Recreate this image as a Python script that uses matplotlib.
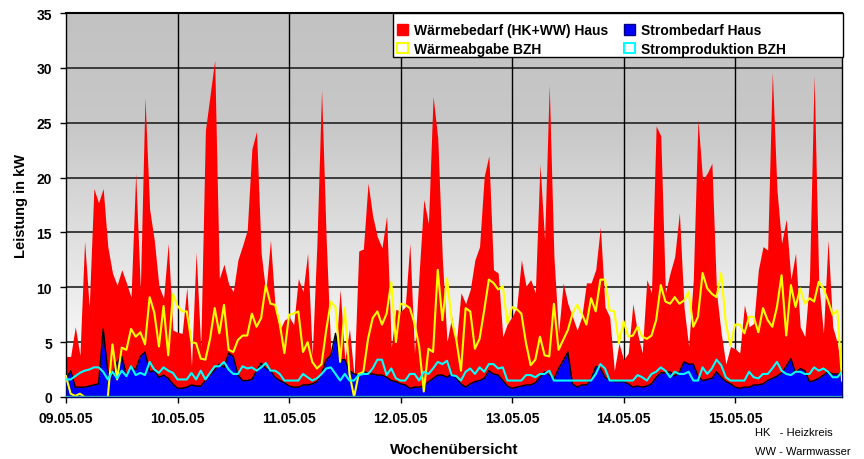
import numpy as np
import matplotlib
matplotlib.use("Agg")
import matplotlib.pyplot as plt
from matplotlib.patches import Patch, Rectangle
from matplotlib.colors import LinearSegmentedColormap

plt.rcParams['font.family'] = ['Liberation Sans', 'DejaVu Sans']

# hourly values (kW), 7 days x 24 h, starting 09.05.05 00:00
waermebedarf = [
    3.7, 3.7, 6.4, 3.8, 14.2, 8.2, 19.0, 17.7, 19.0, 13.7, 11.3, 10.2, 11.6, 10.4, 9.1, 20.4, 9.8, 27.3, 17.1, 14.3, 10.1, 9.0, 14.0, 6.1,
    5.9, 5.8, 10.0, 2.8, 13.2, 4.5, 24.3, 27.5, 30.7, 10.8, 12.1, 10.3, 9.6, 12.5, 13.8, 15.2, 22.6, 24.2, 13.1, 9.5, 14.3, 8.2, 6.1, 7.0,
    7.3, 6.6, 10.8, 9.6, 13.1, 3.8, 14.0, 28.0, 14.3, 4.0, 3.7, 9.8, 3.4, 6.2, 1.9, 13.3, 13.5, 19.5, 16.5, 14.6, 13.6, 16.5, 4.5, 8.0,
    7.8, 8.2, 14.0, 4.0, 11.3, 18.0, 15.8, 27.4, 23.6, 12.5, 5.0, 7.3, 4.9, 9.5, 8.5, 9.8, 12.5, 13.7, 20.1, 22.0, 11.6, 11.3, 5.5, 6.7,
    7.3, 8.2, 12.5, 10.1, 10.7, 9.5, 21.2, 14.3, 28.4, 12.8, 5.8, 10.4, 8.5, 7.3, 6.1, 7.3, 10.4, 10.4, 11.6, 15.5, 8.2, 7.3, 2.4, 4.9,
    3.4, 4.0, 8.5, 5.8, 4.0, 10.7, 9.5, 24.7, 23.8, 9.5, 11.3, 12.8, 16.8, 8.2, 4.6, 10.7, 25.3, 19.8, 20.4, 21.3, 9.5, 5.8, 3.0, 4.6,
    4.4, 4.0, 8.4, 6.4, 6.7, 11.6, 13.7, 13.4, 29.6, 18.9, 14.0, 16.2, 10.7, 13.1, 6.4, 5.5, 10.7, 29.3, 10.4, 5.8, 14.3, 6.4, 4.9, 2.2,
]
strombedarf = [
    1.6, 2.4, 0.9, 0.9, 0.9, 1.0, 1.1, 1.2, 6.2, 2.3, 2.0, 3.2, 3.7, 2.0, 2.7, 2.5, 3.7, 4.1, 2.3, 2.4, 1.8, 2.0, 1.7, 1.2,
    0.8, 0.8, 0.9, 1.1, 1.0, 1.0, 1.5, 2.0, 2.5, 3.0, 2.7, 4.0, 3.7, 2.0, 1.5, 1.5, 1.6, 2.4, 3.1, 2.6, 2.4, 1.8, 1.5, 1.3,
    1.0, 0.9, 0.9, 1.1, 1.1, 1.2, 1.4, 2.1, 3.4, 3.8, 5.8, 3.4, 3.4, 2.4, 2.1, 2.0, 2.4, 2.1, 2.1, 2.0, 2.0, 1.8, 1.5, 1.4,
    1.2, 1.1, 0.8, 0.9, 0.9, 1.0, 1.4, 1.7, 2.0, 2.0, 1.8, 2.1, 1.7, 1.2, 0.9, 1.2, 1.4, 1.5, 1.7, 2.4, 2.1, 2.0, 1.5, 1.0,
    0.8, 0.9, 1.0, 1.1, 1.1, 1.3, 1.8, 2.3, 2.0, 1.6, 2.6, 3.3, 4.1, 1.2, 0.9, 1.1, 1.1, 1.6, 2.8, 2.6, 1.8, 1.5, 1.4, 1.4,
    1.4, 1.2, 0.9, 1.0, 0.9, 1.0, 1.2, 1.8, 2.2, 2.2, 2.3, 1.9, 2.3, 3.2, 3.0, 3.0, 1.9, 1.5, 1.6, 1.7, 2.3, 1.8, 1.4, 1.2,
    0.9, 0.8, 0.9, 0.9, 1.1, 1.1, 1.2, 1.5, 1.7, 1.9, 2.2, 2.8, 3.5, 2.2, 2.6, 2.4, 1.4, 1.5, 1.7, 2.0, 2.3, 2.1, 2.1, 2.1,
]
waermeabgabe = [
    1.9, 0.3, 0.1, 0.3, 0.0, 0.0, 0.0, 0.0, 0.0, 0.0, 4.8, 1.6, 4.5, 4.3, 6.2, 5.5, 5.9, 4.8, 9.1, 7.7, 4.6, 8.3, 3.8, 9.4,
    8.3, 7.8, 7.8, 5.0, 4.9, 3.5, 3.4, 5.3, 8.1, 5.8, 8.4, 4.3, 4.1, 5.2, 5.6, 5.6, 7.6, 6.4, 7.2, 10.2, 8.5, 8.4, 6.7, 4.0,
    7.5, 7.6, 7.8, 4.1, 5.0, 3.2, 2.6, 3.0, 6.1, 8.7, 8.2, 3.2, 8.1, 2.1, 0.0, 2.1, 2.3, 5.3, 7.2, 7.8, 6.6, 7.6, 10.5, 5.0,
    8.5, 8.4, 8.1, 6.7, 4.6, 0.5, 4.4, 4.1, 11.6, 7.0, 10.8, 7.0, 5.2, 2.4, 8.1, 7.8, 4.4, 5.3, 7.9, 10.7, 10.4, 9.8, 10.1, 6.7,
    8.2, 8.0, 7.6, 4.9, 2.9, 3.4, 5.5, 3.8, 3.7, 8.5, 4.3, 5.2, 6.1, 7.6, 8.4, 7.6, 6.6, 9.0, 7.8, 10.7, 10.7, 7.9, 7.8, 4.9,
    6.9, 5.5, 5.6, 6.4, 5.5, 5.3, 5.6, 7.0, 10.2, 8.7, 8.5, 9.1, 8.5, 8.8, 9.6, 6.4, 7.3, 11.3, 9.9, 9.4, 9.1, 11.3, 6.7, 4.7,
    6.6, 6.6, 5.8, 7.3, 7.3, 5.9, 8.1, 7.0, 6.4, 8.2, 11.1, 5.6, 10.2, 8.2, 9.9, 8.5, 9.0, 8.7, 10.5, 9.9, 8.8, 7.5, 7.9, 1.5,
]
stromproduktion = [
    1.6, 1.6, 1.9, 2.2, 2.4, 2.5, 2.7, 2.7, 2.3, 1.6, 2.3, 1.7, 2.4, 1.9, 2.8, 2.0, 2.2, 2.0, 3.2, 2.5, 2.2, 2.7, 2.4, 2.2,
    1.6, 1.6, 1.6, 2.2, 1.6, 2.4, 1.6, 2.2, 2.8, 2.8, 3.2, 2.5, 2.1, 2.1, 2.8, 2.6, 2.7, 2.4, 2.7, 3.1, 2.4, 2.4, 2.1, 1.5,
    1.5, 1.5, 1.5, 2.1, 1.8, 1.5, 1.7, 2.1, 2.6, 2.7, 2.1, 1.5, 2.1, 1.5, 1.5, 2.0, 2.1, 2.1, 2.6, 3.4, 3.4, 2.0, 2.6, 1.7,
    1.5, 1.5, 2.1, 2.1, 1.5, 2.3, 2.1, 2.6, 3.2, 3.0, 3.3, 2.0, 1.9, 1.5, 2.3, 2.6, 2.1, 2.7, 2.3, 3.0, 3.0, 2.6, 2.7, 1.5,
    1.5, 1.5, 1.5, 2.0, 2.0, 1.8, 2.1, 2.1, 2.4, 1.5, 1.5, 1.5, 1.5, 1.5, 1.5, 1.5, 1.5, 1.5, 2.1, 3.0, 2.6, 1.5, 1.5, 1.5,
    1.5, 1.5, 1.5, 2.0, 1.8, 1.5, 2.1, 2.3, 2.7, 2.4, 1.8, 2.3, 2.1, 2.1, 2.3, 1.5, 1.5, 2.7, 2.1, 2.6, 3.4, 2.9, 1.8, 1.5,
    1.5, 1.5, 1.5, 2.3, 1.8, 1.7, 2.1, 2.1, 2.6, 3.2, 2.4, 2.1, 2.0, 2.3, 2.3, 2.1, 2.1, 2.7, 2.4, 2.6, 2.3, 1.8, 1.8, 2.3,
]
day_labels = ["09.05.05", "10.05.05", "11.05.05", "12.05.05", "13.05.05", "14.05.05", "15.05.05"]

t = np.arange(len(waermebedarf)) / 24.0

fig = plt.figure(figsize=(8.64, 4.6), dpi=100)
ax = fig.add_axes([66 / 864, 1 - 398 / 460, (842 - 66) / 864, (398 - 14) / 460])
ax.set_xlim(0, t[-1])
ax.set_ylim(0, 35)

# grey gradient background
cmap = LinearSegmentedColormap.from_list(
    "bg", [(0, "#ffffff"), (0.12, "#f8f8f8"), (0.7, "#c8c8c8"), (1, "#c2c2c2")])
grad = np.linspace(0, 1, 256).reshape(-1, 1)
ax.imshow(grad, cmap=cmap, origin="lower", aspect="auto",
          extent=(0, t[-1], 0, 35), zorder=0)

for y in range(5, 36, 5):
    ax.axhline(y, color="#303030", lw=1.3, zorder=1)
for d in range(1, 7):
    ax.axvline(d, color="black", lw=1.0, zorder=1)

ax.fill_between(t, waermebedarf, color="#ff0000", lw=0, zorder=2)
ax.fill_between(t, strombedarf, color="#0000ff", lw=0, zorder=3)
ax.plot(t, strombedarf, color="black", lw=1.0, zorder=4)
ax.plot(t, waermeabgabe, color="#ffff00", lw=1.5, zorder=5)
ax.plot(t, stromproduktion, color="#00ffff", lw=1.5, zorder=6)
ax.axhline(0.05, color="#30a0a0", lw=1.0, zorder=6)

ax.set_xticks(range(7))
ax.set_xticklabels(day_labels, fontsize=10, fontweight="bold")
ax.set_yticks(range(0, 36, 5))
ax.set_yticklabels([str(v) for v in range(0, 36, 5)], fontsize=10, fontweight="bold")
ax.tick_params(direction="out", length=4, width=1, pad=6)
for s in ax.spines.values():
    s.set_color("black")
    s.set_linewidth(1.0)
ax.spines["top"].set_linewidth(1.5)

ax.set_ylabel("Leistung in kW", fontsize=10.5, fontweight="bold", labelpad=6)
ax.set_xlabel("Wochenübersicht", fontsize=11, fontweight="bold", labelpad=12)

# legend box drawn by hand so it can be as wide as in the original
fig.patches.append(Rectangle((393 / 864, 1 - 58 / 460), 450 / 864, 44 / 460,
                             transform=fig.transFigure, facecolor="white",
                             edgecolor="black", lw=1.0, zorder=10))
handles = [
    Patch(facecolor="#ff0000", edgecolor="#ff0000"),
    Patch(facecolor="white", edgecolor="#ffff00", lw=1.5),
    Patch(facecolor="#0000ff", edgecolor="#000080"),
    Patch(facecolor="white", edgecolor="#00ffff", lw=1.5),
]
labels = ["Wärmebedarf (HK+WW) Haus", "Wärmeabgabe BZH",
          "Strombedarf Haus", "Stromproduktion BZH"]
leg = fig.legend(handles, labels, ncol=2, loc="upper left",
                 bbox_to_anchor=(386 / 864, 1 - 13 / 460),
                 prop={"weight": "bold", "size": 10},
                 frameon=False,
                 handlelength=0.8, handleheight=0.8, handletextpad=0.4,
                 columnspacing=1.15, borderpad=0.3, labelspacing=0.35)
leg.set_zorder(11)

fig.text(755 / 864, 1 - 433 / 460, "HK   - Heizkreis", fontsize=8, va="center")
fig.text(755 / 864, 1 - 452 / 460, "WW - Warmwasser", fontsize=8, va="center")

fig.savefig("out.png", dpi=100)
